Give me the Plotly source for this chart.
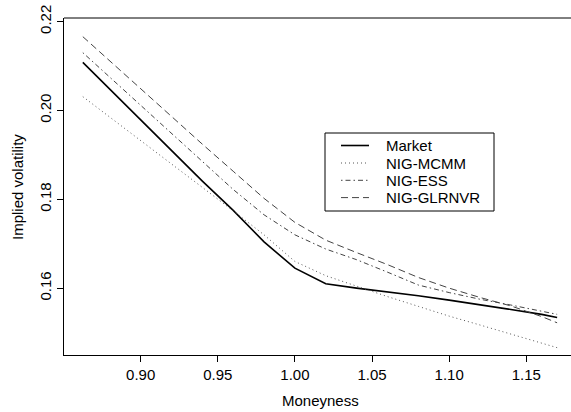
import plotly.graph_objects as go

moneyness = [0.8625, 0.88, 0.90, 0.92, 0.94, 0.96, 0.98, 1.00, 1.02, 1.04,
             1.06, 1.08, 1.10, 1.12, 1.14, 1.16, 1.17]

market = [0.2108, 0.2048, 0.1979, 0.1910, 0.1841, 0.1775, 0.1704, 0.1645, 0.1610, 0.1600,
          0.1592, 0.1583, 0.1573, 0.1563, 0.1552, 0.1541, 0.1534]
nig_mcmm = [0.2031, 0.1985, 0.1932, 0.1880, 0.1827, 0.1774, 0.1720, 0.1660, 0.1628, 0.1604,
            0.1581, 0.1559, 0.1537, 0.1517, 0.1497, 0.1476, 0.1466]
nig_ess = [0.2130, 0.2075, 0.2011, 0.1948, 0.1885, 0.1822, 0.1765, 0.1720, 0.1688, 0.1664,
           0.1636, 0.1607, 0.1590, 0.1575, 0.1562, 0.1549, 0.1541]
nig_glrnvr = [0.2166, 0.2111, 0.2048, 0.1985, 0.1924, 0.1863, 0.1802, 0.1748, 0.1708, 0.1680,
              0.1653, 0.1624, 0.1600, 0.1579, 0.1560, 0.1536, 0.1522]

series_names = ["Market", "NIG-MCMM", "NIG-ESS", "NIG-GLRNVR"]

x_ticks = [0.90, 0.95, 1.00, 1.05, 1.10, 1.15]
x_ticklabels = ["0.90", "0.95", "1.00", "1.05", "1.10", "1.15"]
y_ticks = [0.16, 0.18, 0.20, 0.22]
y_ticklabels = ["0.16", "0.18", "0.20", "0.22"]

FONT = "Liberation Sans, Arial, Helvetica, sans-serif"
W, H = 571, 412
ML, MR, MT, MB = 64, 0, 18, 412 - 355
PW, PH = W - ML - MR, H - MT - MB


def px_x(p):
    return (p - ML) / PW


def px_y(p):
    return (H - MB - p) / PH


styles = [
    dict(color="black", width=1.6, dash="solid"),
    dict(color="#555555", width=1, dash="1px,3px"),
    dict(color="#444444", width=1, dash="1.5px,3px,5px,3px"),
    dict(color="#444444", width=1, dash="7px,4px"),
]
series = [market, nig_mcmm, nig_ess, nig_glrnvr]

fig = go.Figure()
for name, vals, st in zip(series_names, series, styles):
    fig.add_trace(go.Scatter(x=moneyness, y=vals, mode="lines", name=name,
                             line=st, showlegend=False, hoverinfo="skip"))

shapes = []
annotations = []
# top frame line
shapes.append(dict(type="line", xref="paper", yref="paper", x0=0, x1=1, y0=1, y1=1,
                   line=dict(color="black", width=1)))
# legend box
shapes.append(dict(type="rect", xref="paper", yref="paper",
                   x0=px_x(325), x1=px_x(494), y0=px_y(211), y1=px_y(133),
                   line=dict(color="black", width=1), fillcolor="white", layer="above"))
rows = [145.5, 163.0, 180.3, 197.6]
for name, st, ry in zip(series_names, styles, rows):
    shapes.append(dict(type="line", xref="paper", yref="paper",
                       x0=px_x(341), x1=px_x(369), y0=px_y(ry), y1=px_y(ry),
                       line=dict(color=st["color"], width=st["width"], dash=st["dash"]),
                       layer="above"))
    annotations.append(dict(text=name, xref="paper", yref="paper", x=px_x(384), y=px_y(ry),
                            xanchor="left", yanchor="middle", showarrow=False,
                            font=dict(family=FONT, size=15, color="black")))

annotations.append(dict(text="Moneyness", xref="paper", yref="paper", x=px_x(320), y=px_y(400),
                        xanchor="center", yanchor="middle", showarrow=False,
                        font=dict(family=FONT, size=15, color="black")))
annotations.append(dict(text="Implied volatility", xref="paper", yref="paper", x=px_x(17),
                        y=px_y(187), xanchor="center", yanchor="middle", showarrow=False,
                        textangle=-90, font=dict(family=FONT, size=15, color="black")))

fig.update_layout(
    width=W, height=H,
    margin=dict(l=ML, r=MR, t=MT, b=MB),
    paper_bgcolor="white", plot_bgcolor="white",
    font=dict(family=FONT, size=15, color="black"),
    showlegend=False,
    shapes=shapes, annotations=annotations,
    xaxis=dict(range=[0.8503, 1.1790], tickvals=x_ticks, ticktext=x_ticklabels,
               showgrid=False, zeroline=False, showline=True, linecolor="black", linewidth=1,
               ticks="outside", ticklen=6, tickcolor="black", automargin=False,
               ticklabeloverflow="allow"),
    yaxis=dict(range=[0.14495, 0.2208], tickvals=y_ticks, ticktext=y_ticklabels,
               showgrid=False, zeroline=False, showline=True, linecolor="black", linewidth=1,
               ticks="outside", ticklen=6, tickcolor="black", tickangle=-90, automargin=False,
               ticklabeloverflow="allow"),
)

fig.write_html("out.html",
               config={"displayModeBar": False},
               post_script="document.body.style.margin='0px';"
                           "document.body.style.overflow='hidden';")
